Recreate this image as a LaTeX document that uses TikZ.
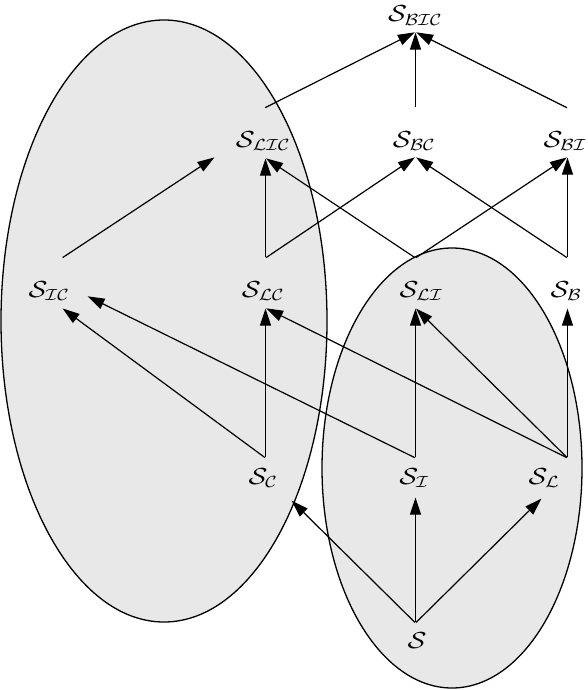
\documentclass[tikz,border=0pt]{standalone}
\usetikzlibrary{arrows.meta}
\definecolor{blobgray}{gray}{0.91}
\begin{document}
\begin{tikzpicture}
        [x=1pt,y=-1pt,line width=1.2pt,>={Triangle[length=17pt,width=11pt]},
        lbl/.style={anchor=base,inner sep=0pt,font=\huge,xscale=1.34,yscale=1.12},
        port/.style={inner sep=0pt,minimum size=0pt},
        blob/.style={draw,fill=blobgray,line width=1.3pt}]
        \useasboundingbox (0,0) rectangle (588,690);

        % the two shaded sets
        \draw[blob] (164,321) ellipse [x radius=163,y radius=301];
        \draw[blob] (452,468) ellipse [x radius=130,y radius=220];

        % row 1
        \node[lbl]  (SBIC) at   (415,22)        {$\mathcal{S}_{\mathcal{BIC}}$};
        \node[port] (SBICi) at  (415.5,32)      {};

        % row 2
        \node[lbl]  (SLIC) at   (263,147)       {$\mathcal{S}_{\mathcal{LIC}}$};
        \node[lbl]  (SBC) at    (414,147)       {$\mathcal{S}_{\mathcal{BC}}$};
        \node[lbl]  (SBI) at    (565,147)       {$\mathcal{S}_{\mathcal{BI}}$};
        \node[port] (SLICo) at  (264.5,108)     {};
        \node[port] (SBCo) at   (415.5,108)     {};
        \node[port] (SBIo) at   (567.5,108)     {};
        \node[port] (SLICi) at  (265.5,158)     {};
        \node[port] (SLICj) at  (215,157)       {};
        \node[port] (SBCi) at   (415.5,157)     {};
        \node[port] (SBIi) at   (567.5,157)     {};

        % row 3
        \node[lbl]  (SIC) at    (49,297)        {$\mathcal{S}_{\mathcal{IC}}$};
        \node[lbl]  (SLC) at    (263,297)       {$\mathcal{S}_{\mathcal{LC}}$};
        \node[lbl]  (SLI) at    (421,297)       {$\mathcal{S}_{\mathcal{LI}}$};
        \node[lbl]  (SB) at     (566,297)       {$\mathcal{S}_{\mathcal{B}}$};
        \node[port] (SICo) at   (62,258)        {};
        \node[port] (SLCo) at   (265.5,258)     {};
        \node[port] (SLIo) at   (415.5,258)     {};
        \node[port] (SBo) at    (567.5,258)     {};
        \node[port] (SICi) at   (62,308)        {};
        \node[port] (SICj) at   (87,296)        {};
        \node[port] (SLCi) at   (265.5,308)     {};
        \node[port] (SLIi) at   (415.5,308)     {};
        \node[port] (SBi) at    (567.5,308)     {};

        % row 4
        \node[lbl]  (SC) at     (263,484)       {$\mathcal{S}_{\mathcal{C}}$};
        \node[lbl]  (SI) at     (414,484)       {$\mathcal{S}_{\mathcal{I}}$};
        \node[lbl]  (SL) at     (544,484)       {$\mathcal{S}_{\mathcal{L}}$};
        \node[port] (SCo) at    (265.5,458)     {};
        \node[port] (SIo) at    (415.5,458)     {};
        \node[port] (SLo) at    (567.5,458)     {};
        \node[port] (SCi) at    (291,500)       {};
        \node[port] (SIi) at    (415.5,497)     {};
        \node[port] (SLi) at    (542,498)       {};

        % bottom
        \node[lbl]  (S) at      (417,648)       {$\mathcal{S}$};
        \node[port] (So) at     (415.5,623)     {};

        \draw[->]
        (So)        edge        (SCi)
        (So)        edge        (SIi)
        (So)        edge        (SLi)

        (SCo)       edge        (SICi)
        (SCo)       edge        (SLCi)
        (SIo)       edge        (SICj)
        (SIo)       edge        (SLIi)
        (SLo)       edge        (SLCi)
        (SLo)       edge        (SLIi)
        (SLo)       edge        (SBi)

        (SICo)      edge        (SLICj)
        (SLCo)      edge        (SLICi)
        (SLCo)      edge        (SBCi)
        (SLIo)      edge        (SLICi)
        (SLIo)      edge        (SBIi)
        (SBo)       edge        (SBCi)
        (SBo)       edge        (SBIi)

        (SLICo)     edge        (SBICi)
        (SBCo)      edge        (SBICi)
        (SBIo)      edge        (SBICi);
    \end{tikzpicture}
\end{document}
